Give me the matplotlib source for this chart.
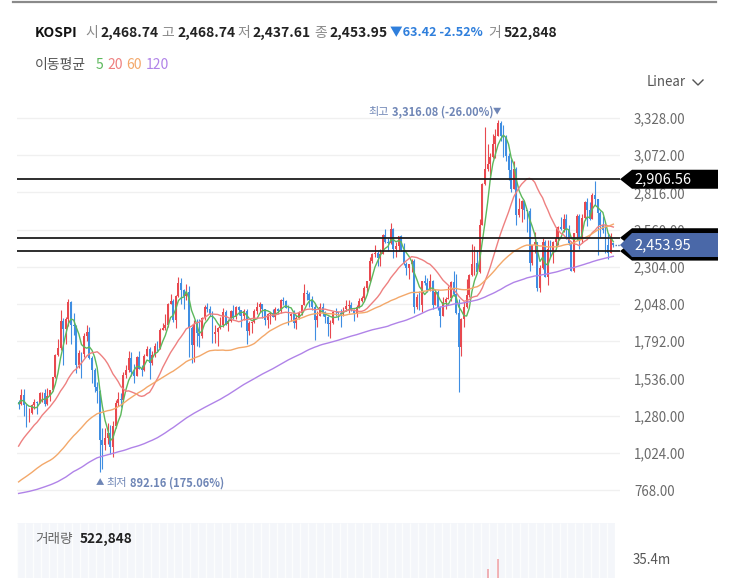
import numpy as np
import pandas as pd
import matplotlib
matplotlib.use('Agg')
import matplotlib.pyplot as plt
from matplotlib.patches import Polygon
from matplotlib.lines import Line2D

plt.rcParams['font.family'] = ['Noto Sans CJK KR', 'DejaVu Sans']

# ---------------- data (monthly KOSPI, Mar 2006 - Feb 2025) ----------------
# closes before the displayed window (Apr 1996 - Feb 2006), used only for moving averages
hist_closes = [980, 980, 900, 820, 820, 820, 780, 740, 651,
               680, 680, 650, 700, 740, 760, 730, 690, 650, 500, 400, 376,
               560, 510, 480, 420, 330, 300, 350, 310, 310, 400, 450, 562,
               590, 520, 620, 740, 720, 880, 960, 940, 890, 800, 990, 1028,
               940, 830, 860, 730, 730, 820, 700, 690, 610, 520, 530, 504,
               620, 580, 520, 570, 590, 590, 540, 545, 480, 530, 640, 693,
               750, 820, 900, 840, 800, 740, 710, 730, 650, 670, 700, 627,
               590, 575, 535, 600, 630, 670, 720, 760, 700, 780, 790, 810,
               850, 880, 880, 860, 770, 770, 735, 810, 830, 840, 870, 896,
               930, 1010, 970, 910, 970, 1010, 1080, 1085, 1220, 1160, 1300, 1379,
               1400, 1371]

opens = [1371, 1360, 1420, 1350, 1295, 1297, 1352, 1371, 1365, 1433,
         1435, 1361, 1417, 1453, 1543, 1700, 1744, 1933, 1874, 1946, 2065, 1906,
         1897, 1625, 1712, 1704, 1825, 1852, 1674, 1595, 1474, 1448, 1113, 1076,
         1124, 1162, 1063, 1206, 1369, 1396, 1390, 1557, 1591, 1673, 1580, 1555,
         1682, 1602, 1594, 1692, 1741, 1641, 1698, 1759, 1742, 1872, 1882, 1904,
         2051, 2069, 1939, 2106, 2192, 2142, 2100, 2133, 1880, 1769, 1909, 1847,
         1826, 1955, 2030, 2014, 1981, 1843, 1854, 1881, 1905, 1996, 1912, 1932,
         1997, 1961, 2026, 2005, 1963, 2001, 1863, 1914, 1926, 1997, 2030, 2045,
         2011, 1941, 1980, 1986, 1961, 2017, 2002, 2076, 2068, 2020, 1964, 1981,
         1916, 1949, 1985, 2041, 2127, 2115, 2074, 2030, 1941, 1963, 2029, 1991,
         1961, 1912, 1917, 1996, 1994, 1983, 1970, 2016, 2035, 2043, 2008, 1983,
         2026, 2067, 2091, 2160, 2205, 2347, 2392, 2402, 2363, 2394, 2523, 2476,
         2467, 2566, 2427, 2445, 2515, 2423, 2326, 2295, 2322, 2343, 2029, 2096,
         2041, 2204, 2195, 2141, 2203, 2041, 2130, 2024, 1968, 2063, 2083, 2087,
         2198, 2119, 1987, 1755, 1947, 2030, 2108, 2249, 2326, 2327, 2267, 2591,
         2873, 2976, 3013, 3061, 3147, 3204, 3297, 3202, 3199, 3069, 2970, 2839,
         2977, 2663, 2699, 2757, 2695, 2685, 2333, 2451, 2472, 2155, 2293, 2473,
         2236, 2425, 2413, 2477, 2501, 2577, 2564, 2632, 2556, 2465, 2277, 2535,
         2655, 2497, 2642, 2747, 2692, 2636, 2798, 2770, 2674, 2593, 2556, 2456,
         2399, 2468.74]

highs = [1389, 1465, 1464, 1360, 1331, 1357, 1391, 1379, 1440, 1439,
         1461, 1469, 1454, 1547, 1701, 1806, 2005, 1949, 1960, 2085, 2070, 1985,
         1901, 1730, 1720, 1846, 1902, 1888, 1689, 1610, 1512, 1453, 1196, 1197,
         1228, 1215, 1244, 1385, 1445, 1438, 1578, 1626, 1723, 1718, 1632, 1690,
         1723, 1630, 1701, 1757, 1754, 1728, 1783, 1790, 1882, 1917, 1976, 2052,
         2115, 2085, 2107, 2231, 2229, 2150, 2187, 2173, 1896, 1935, 1942, 1945,
         1958, 2040, 2057, 2031, 2003, 1904, 1889, 1958, 2022, 2007, 1942, 2005,
         2042, 2033, 2032, 2008, 2014, 2012, 1930, 1934, 2012, 2063, 2061, 2050,
         2013, 1984, 1991, 2016, 2024, 2022, 2083, 2093, 2074, 2040, 1988, 2004,
         1970, 1998, 2043, 2189, 2147, 2129, 2100, 2055, 1997, 2054, 2055, 2003,
         1964, 1937, 2002, 2022, 1996, 2017, 2029, 2073, 2074, 2063, 2012, 2043,
         2092, 2100, 2172, 2209, 2372, 2402, 2453, 2410, 2425, 2530, 2561, 2504,
         2607, 2568, 2474, 2519, 2520, 2471, 2336, 2323, 2356, 2356, 2115, 2137,
         2207, 2248, 2228, 2252, 2214, 2148, 2141, 2032, 2095, 2096, 2171, 2205,
         2277, 2252, 2083, 1951, 2060, 2223, 2253, 2459, 2448, 2417, 2635, 2878,
         3266, 3146, 3087, 3220, 3249, 3316.08, 3306, 3279, 3208, 3088, 3043, 3031,
         2989, 2780, 2763, 2760, 2698, 2710, 2456, 2546, 2475, 2317, 2503, 2489,
         2485, 2486, 2480, 2572, 2585, 2650, 2668, 2668, 2592, 2481, 2540, 2670,
         2669, 2667, 2757, 2779, 2752, 2810, 2896, 2774, 2686, 2654, 2600, 2534,
         2537, 2468.74]

lows = [1322, 1355, 1277, 1203, 1234, 1290, 1328, 1292, 1364, 1371,
        1345, 1355, 1380, 1452, 1536, 1690, 1730, 1626, 1772, 1900, 1772, 1836,
        1574, 1606, 1537, 1680, 1796, 1672, 1503, 1441, 1366, 892.16, 914, 1042,
        1088, 1018, 992, 1197, 1348, 1336, 1383, 1540, 1580, 1554, 1502, 1554,
        1601, 1552, 1587, 1690, 1532, 1629, 1683, 1727, 1740, 1867, 1871, 1892,
        2047, 1925, 1882, 2098, 2045, 2016, 2077, 1684, 1644, 1652, 1758, 1750,
        1814, 1940, 1991, 1965, 1782, 1781, 1758, 1876, 1890, 1902, 1860, 1927,
        1946, 1942, 1973, 1888, 1940, 1770, 1833, 1846, 1920, 1980, 1990, 1954,
        1903, 1886, 1910, 1960, 1936, 1977, 1987, 2040, 2018, 1906, 1929, 1881,
        1876, 1944, 1971, 2040, 2073, 2027, 2005, 1800, 1887, 1962, 1967, 1917,
        1829, 1817, 1913, 1968, 1937, 1892, 1962, 2000, 1983, 1998, 1931, 1958,
        2018, 2062, 2073, 2133, 2202, 2328, 2373, 2310, 2311, 2390, 2471, 2411,
        2462, 2364, 2371, 2412, 2416, 2314, 2247, 2219, 2266, 1985, 2013, 2004,
        1993, 2176, 2133, 2137, 2017, 2040, 2010, 1891, 1967, 2014, 2080, 2069,
        2109, 1980, 1440, 1692, 1891, 2019, 2094, 2240, 2246, 2262, 2260, 2590,
        2870, 2960, 2928, 3053, 3055, 3203, 3172, 3060, 3029, 2901, 2822, 2837,
        2591, 2650, 2610, 2636, 2546, 2276, 2314, 2396, 2135, 2134, 2290, 2233,
        2180, 2371, 2332, 2445, 2457, 2560, 2541, 2493, 2453, 2273, 2270, 2485,
        2429, 2471, 2624, 2584, 2625, 2635, 2727, 2386, 2508, 2540, 2398, 2360,
        2397, 2437.61]

closes = [1359, 1420, 1350, 1295, 1297, 1352, 1371, 1365, 1433, 1434,
          1361, 1417, 1453, 1543, 1700, 1744, 1933, 1874, 1946, 2065, 1906, 1897,
          1625, 1712, 1704, 1825, 1852, 1674, 1595, 1474, 1448, 1113, 1076, 1124,
          1162, 1063, 1206, 1369, 1396, 1390, 1557, 1591, 1673, 1580, 1555, 1682,
          1602, 1594, 1692, 1741, 1641, 1698, 1759, 1742, 1872, 1882, 1904, 2051,
          2069, 1939, 2106, 2192, 2142, 2100, 2133, 1880, 1769, 1909, 1847, 1826,
          1955, 2030, 2014, 1981, 1843, 1854, 1881, 1905, 1996, 1912, 1932, 1997,
          1961, 2026, 2005, 1963, 2001, 1863, 1914, 1926, 1997, 2030, 2045, 2011,
          1941, 1980, 1986, 1961, 2017, 2002, 2076, 2068, 2020, 1964, 1981, 1916,
          1949, 1985, 2041, 2127, 2115, 2074, 2030, 1941, 1963, 2029, 1991, 1961,
          1912, 1917, 1996, 1994, 1983, 1970, 2016, 2035, 2043, 2008, 1983, 2026,
          2067, 2091, 2160, 2205, 2347, 2392, 2402, 2363, 2394, 2523, 2476, 2467,
          2566, 2427, 2445, 2515, 2423, 2326, 2295, 2322, 2343, 2029, 2096, 2041,
          2204, 2195, 2141, 2203, 2041, 2130, 2024, 1968, 2063, 2083, 2087, 2198,
          2119, 1987, 1755, 1947, 2030, 2108, 2249, 2326, 2327, 2267, 2591, 2873,
          2976, 3013, 3061, 3147, 3204, 3297, 3202, 3199, 3069, 2970, 2839, 2977,
          2663, 2699, 2757, 2695, 2685, 2333, 2451, 2472, 2155, 2293, 2473, 2236,
          2425, 2413, 2477, 2501, 2577, 2564, 2632, 2556, 2465, 2277, 2535, 2655,
          2497, 2642, 2747, 2692, 2636, 2798, 2770, 2674, 2593, 2556, 2456, 2399,
          2517, 2453.95]

# monthly volume, millions of (thousand) shares
volumes_m = [7.5, 6.5, 7.0, 6.0, 5.5, 5.5, 5.0, 5.0, 6.0, 5.0,
             5.5, 5.0, 6.0, 6.5, 9.0, 8.5, 9.0, 7.5, 6.0, 7.0, 6.0, 5.5,
             6.0, 5.0, 5.5, 6.0, 7.0, 6.0, 6.5, 5.5, 5.5, 8.5, 7.0, 7.5,
             9.0, 10.0, 11.5, 14.0, 13.0, 11.0, 10.5, 10.0, 9.0, 8.0, 7.5, 7.0,
             8.5, 6.5, 7.0, 8.5, 8.0, 7.0, 7.0, 6.5, 6.5, 7.5, 8.0, 7.0,
             8.0, 6.5, 7.0, 7.5, 7.0, 6.0, 6.5, 9.0, 7.0, 7.0, 6.5, 6.0,
             9.5, 10.0, 9.0, 9.5, 8.5, 7.5, 7.5, 8.5, 9.5, 8.0, 8.5, 8.0,
             7.5, 6.5, 7.0, 7.5, 8.0, 6.5, 6.0, 6.0, 5.5, 6.0, 5.5, 5.0,
             5.5, 5.0, 5.5, 5.0, 5.0, 4.5, 5.5, 5.0, 5.5, 6.0, 5.5, 6.0,
             7.0, 7.5, 9.0, 10.5, 8.5, 8.0, 8.0, 8.5, 6.5, 8.0, 7.5, 7.0,
             7.5, 7.5, 7.5, 8.0, 8.0, 9.0, 7.5, 7.5, 7.0, 7.0, 7.0, 6.5,
             7.0, 6.5, 6.5, 6.5, 8.0, 7.5, 7.0, 7.0, 6.0, 5.5, 8.0, 7.0,
             9.0, 8.0, 8.5, 9.0, 10.0, 9.0, 8.0, 7.5, 6.0, 8.5, 7.5, 6.5,
             8.5, 8.0, 8.5, 9.5, 9.0, 8.5, 10.0, 9.5, 9.0, 9.0, 9.5, 9.0,
             12.0, 12.5, 21.0, 24.0, 22.0, 23.0, 20.0, 19.0, 19.5, 18.0, 17.0, 23.0,
             26.0, 31.0, 22.0, 24.0, 24.0, 35.4, 20.0, 19.0, 17.0, 15.0, 16.0, 14.0,
             14.0, 12.0, 12.0, 11.0, 11.0, 12.0, 10.0, 11.0, 10.0, 10.0, 10.0, 9.0,
             10.0, 9.0, 11.0, 12.0, 11.0, 11.0, 14.0, 10.0, 9.0, 9.0, 10.0, 9.0,
             11.0, 10.0, 10.0, 9.0, 9.0, 9.0, 9.0, 10.0, 9.0, 9.0, 9.0, 8.0,
             10.0, 0.522848]

price_ticks = [768, 1024, 1280, 1536, 1792, 2048, 2304, 2560, 2816, 3072, 3328]
drawn_levels = [2906.56, 2504.0, 2412.0]
ma_periods = [5, 20, 60, 120]
ma_colors = ['#5cb85c', '#ee8080', '#f3a86a', '#b083e8']

# ---------------- layout helpers ----------------
W, H = 743, 578
fig = plt.figure(figsize=(W / 100, H / 100), dpi=100)
fig.patch.set_facecolor('white')


def fx(x):
    return x / W


def fy(y):
    return 1 - y / H


PX_PER_BAR = 2.62
X0_PX = 18.6
PLOT_L, PLOT_R, PLOT_T, PLOT_B = 17, 620, 95, 505
PX_PER_PT = 372 / 2560.0

n = len(closes)
idx = np.arange(n)
o = np.array(opens, float)
h = np.array(highs, float)
l = np.array(lows, float)
c = np.array(closes, float)

UP, DOWN = '#e8494f', '#3f8ee2'
col = np.where(c >= o, UP, DOWN)

ax = fig.add_axes([fx(PLOT_L), fy(PLOT_B), (PLOT_R - PLOT_L) / W, (PLOT_B - PLOT_T) / H])
ax.set_xlim((PLOT_L - X0_PX) / PX_PER_BAR, (PLOT_R - X0_PX) / PX_PER_BAR)
ax.set_ylim(768 - (PLOT_B - 490) / PX_PER_PT, 768 + (490 - PLOT_T) / PX_PER_PT)
for s in ax.spines.values():
    s.set_visible(False)
ax.set_xticks([])
ax.yaxis.tick_right()
ax.set_yticks(price_ticks)
ax.set_yticklabels([f'{v:,.2f}' for v in price_ticks])
ax.tick_params(axis='y', length=0, pad=10, labelsize=9.6, labelcolor='#6a6a6a')
ax.grid(axis='y', color='#f0f0f0', lw=1.0)
ax.set_axisbelow(True)

# candles
ax.vlines(idx, l, h, colors=col, lw=0.8, zorder=2)
body_bottom = np.minimum(o, c)
body_h = np.maximum(np.abs(c - o), 3)
ax.bar(idx, body_h, bottom=body_bottom, width=0.72, color=col, lw=0, zorder=2)

# moving averages
all_closes = pd.Series(list(hist_closes) + list(closes), dtype=float)
for p, mc in zip(ma_periods, ma_colors):
    ma = all_closes.rolling(p).mean().values[-n:]
    ax.plot(idx, ma, color=mc, lw=1.0, zorder=3)

# drawn horizontal lines
for lv in drawn_levels:
    ax.axhline(lv, color='#1e1e1e', lw=1.3, zorder=4)

# current price dotted stub
ax.plot([n - 1 + 0.5, (PLOT_R - X0_PX) / PX_PER_BAR], [c[-1], c[-1]],
        color='#4a68a8', lw=1.0, ls=(0, (1, 1)), zorder=4)


def y_of(v):
    return 490 - (v - 768) * PX_PER_PT


# price labels (black for drawn lines, blue for current)
def label_box(yc, hgt, color, text=None):
    tip, left, right = 620, 632, 718
    pts = [(fx(tip), fy(yc)), (fx(left), fy(yc - hgt / 2)), (fx(right), fy(yc - hgt / 2)),
           (fx(right), fy(yc + hgt / 2)), (fx(left), fy(yc + hgt / 2))]
    fig.add_artist(Polygon(pts, closed=True, transform=fig.transFigure,
                           facecolor=color, edgecolor='none', zorder=5))
    if text:
        fig.text(fx(634), fy(yc), text, color='white', fontsize=10.5,
                 va='center', ha='left', zorder=6)


label_box(y_of(drawn_levels[0]), 19, '#000000', f'{drawn_levels[0]:,.2f}')
label_box(y_of(drawn_levels[1]), 19, '#000000')
label_box(y_of(drawn_levels[2]), 19, '#000000')
label_box(y_of(c[-1]), 24, '#4a68a8', f'{c[-1]:,.2f}')

# high / low annotations
hi_i = int(np.argmax(h))
lo_i = int(np.argmin(l))
ann_col = '#6f86b6'
hi_txt = f'{h[hi_i]:,.2f} ({(c[-1] - h[hi_i]) / h[hi_i] * 100:.2f}%)'
lo_txt = f'{l[lo_i]:,.2f} ({(c[-1] - l[lo_i]) / l[lo_i] * 100:.2f}%)'
fig.text(fx(368), fy(112), '최고', color=ann_col, fontsize=8.0, va='center', ha='left')
fig.text(fx(392), fy(112), hi_txt, color=ann_col, fontsize=8.0, fontweight='bold',
         va='center', ha='left')
fig.text(fx(493), fy(111), '▼', color=ann_col, fontsize=6.0, va='center', ha='left')
fig.text(fx(96), fy(483), '▲', color=ann_col, fontsize=6.0, va='center', ha='left')
fig.text(fx(106), fy(483), '최저', color=ann_col, fontsize=8.0, va='center', ha='left')
fig.text(fx(130), fy(483), lo_txt, color=ann_col, fontsize=8.0, fontweight='bold',
         va='center', ha='left')

# ---------------- volume panel ----------------
VOL_T, VOL_B = 523, 640
VOL_TOP = 51.1
vax = fig.add_axes([fx(17), fy(VOL_B), (615 - 17) / W, (VOL_B - VOL_T) / H])
vax.set_facecolor('#f4f6fa')
vax.set_xlim((17 - X0_PX) / PX_PER_BAR, (615 - X0_PX) / PX_PER_BAR)
vax.set_ylim(0, VOL_TOP)
for s in vax.spines.values():
    s.set_visible(False)
vax.set_xticks([])
vax.set_yticks([])
vax.vlines(np.arange(-0.5, n + 1, 3), 0, VOL_TOP, colors='white', lw=1.0, alpha=0.8, zorder=0)
vax.bar(idx, volumes_m, width=0.72, color=col, alpha=0.4, lw=0, zorder=2)

fig.text(fx(633), fy(560), '35.4m', color='#555555', fontsize=9.6, va='center', ha='left')
fig.text(fx(35), fy(539), '거래량', color='#666666', fontsize=9.8, va='center', ha='left')
fig.text(fx(80), fy(539), '522,848', color='#222222', fontsize=9.8, fontweight='bold',
         va='center', ha='left')

# ---------------- header ----------------
fig.add_artist(Line2D([fx(13), fx(716)], [fy(2), fy(2)], color='#8a8a8a', lw=1.6,
                      transform=fig.transFigure))

row1 = [('KOSPI', 35, 'bold', '#111111', 10),
        ('시', 85, 'normal', '#8a8a8a', 10),
        ('2,468.74', 100, 'bold', '#222222', 10),
        ('고', 161, 'normal', '#8a8a8a', 10),
        ('2,468.74', 177, 'bold', '#222222', 10),
        ('저', 237, 'normal', '#8a8a8a', 10),
        ('2,437.61', 252, 'bold', '#222222', 10),
        ('종', 314, 'normal', '#8a8a8a', 10),
        ('2,453.95', 329, 'bold', '#222222', 10),
        ('▼63.42 -2.52%', 390, 'bold', '#2f7fdc', 9.1),
        ('거', 488, 'normal', '#8a8a8a', 10),
        ('522,848', 504, 'bold', '#222222', 10)]
for txt, x, wt, cl, fs in row1:
    fig.text(fx(x), fy(33), txt, color=cl, fontsize=fs, fontweight=wt, va='center', ha='left')

row2 = [('이동평균', 35, '#555555'), ('5', 96, ma_colors[0]), ('20', 107, ma_colors[1]),
        ('60', 126, ma_colors[2]), ('120', 146, ma_colors[3])]
for txt, x, cl in row2:
    fig.text(fx(x), fy(65), txt, color=cl, fontsize=10, va='center', ha='left')

fig.text(fx(647), fy(82), 'Linear', color='#555555', fontsize=9.6, va='center', ha='left')
fig.add_artist(Line2D([fx(693), fx(698), fx(703)], [fy(80), fy(85), fy(80)], color='#555555',
                      lw=1.0, transform=fig.transFigure))

fig.savefig('out.png', dpi=100, facecolor='white')
